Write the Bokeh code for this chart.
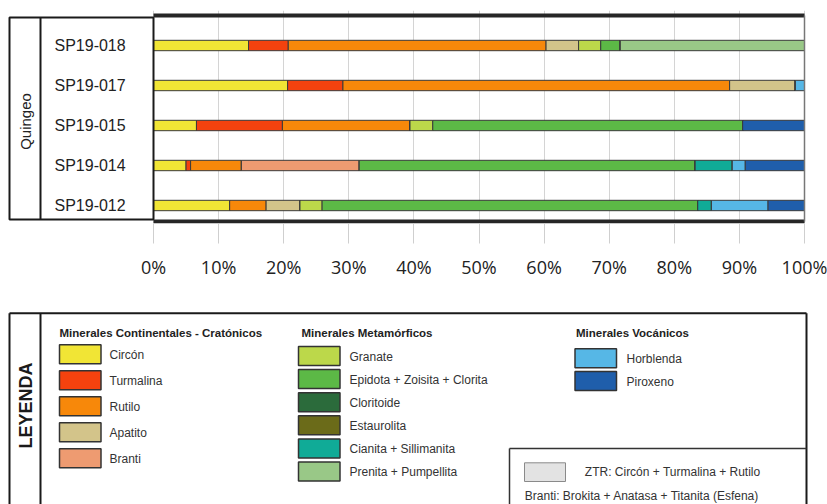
import math
from bokeh.plotting import figure
from bokeh.models import Range1d, LinearAxis, FixedTicker, ColumnDataSource
from bokeh.layouts import column
from bokeh.core.properties import value
from bokeh.embed import file_html
from bokeh.resources import INLINE

# ---------------- data ----------------
samples = ["SP19-018", "SP19-017", "SP19-015", "SP19-014", "SP19-012"]
group_label = "Quingeo"

minerals = ["Circón", "Turmalina", "Rutilo", "Apatito", "Branti",
            "Granate", "Epidota + Zoisita + Clorita", "Cloritoide", "Estaurolita",
            "Cianita + Sillimanita", "Prenita + Pumpellita",
            "Horblenda", "Piroxeno"]
colors = ["#f1e535", "#f4420e", "#f7880a", "#d3c48a", "#ee9b71",
          "#bcd84a", "#5cb946", "#2b6b3b", "#6b6b19",
          "#10ab97", "#99c887",
          "#56b7e6", "#1f5eab"]

circon      = [14.6, 20.6, 6.6, 5.0, 11.7]
turmalina   = [6.1, 8.5, 13.2, 0.7, 0.0]
rutilo      = [39.6, 59.4, 19.6, 7.8, 5.6]
apatito     = [5.0, 10.1, 0.0, 0.0, 5.2]
branti      = [0.0, 0.0, 0.0, 18.1, 0.0]
granate     = [3.4, 0.0, 3.5, 0.0, 3.4]
epidota     = [3.0, 0.0, 47.6, 51.6, 57.7]
cloritoide  = [0.0, 0.0, 0.0, 0.0, 0.0]
estaurolita = [0.0, 0.0, 0.0, 0.0, 0.0]
cianita     = [0.0, 0.0, 0.0, 5.7, 2.1]
prenita     = [28.3, 0.0, 0.0, 0.0, 0.0]
horblenda   = [0.0, 1.4, 0.0, 2.0, 8.7]
piroxeno    = [0.0, 0.0, 9.5, 9.1, 5.6]

series = [circon, turmalina, rutilo, apatito, branti, granate, epidota,
          cloritoide, estaurolita, cianita, prenita, horblenda, piroxeno]

ticks = [0, 10, 20, 30, 40, 50, 60, 70, 80, 90, 100]
tick_labels = ["0%", "10%", "20%", "30%", "40%", "50%", "60%", "70%", "80%", "90%", "100%"]

legend_groups = [
    ("Minerales Continentales - Cratónicos", [0, 1, 2, 3, 4]),
    ("Minerales Metamórficos", [5, 6, 7, 8, 9, 10]),
    ("Minerales Vocánicos", [11, 12]),
]
ztr_text = "ZTR: Circón + Turmalina + Rutilo"
branti_text = "Branti: Brokita + Anatasa + Titanita (Esfena)"
legend_title = "LEYENDA"

# ---------------- layout constants ----------------
W = 827
TOP_H = 290
X0, X100 = 153.0, 804.0
K = (X100 - X0) / 100.0           # px per percent
ROW0, PITCH = 45.0, 40.0          # px centre of first bar, px between bars
FRAME_TOP, FRAME_BOT = 10, 223

def dx(px):
    return (px - X0) / K

def dy(py):
    return (py - ROW0) / PITCH

FONT = value("Liberation Sans")

# ---------------- top chart ----------------
p = figure(width=W, height=TOP_H, toolbar_location=None, output_backend="svg",
           x_range=Range1d(dx(0), dx(W)), y_range=Range1d(dy(FRAME_BOT), dy(FRAME_TOP)),
           x_axis_location=None, y_axis_location=None,
           min_border_left=0, min_border_right=0,
           min_border_top=FRAME_TOP, min_border_bottom=TOP_H - FRAME_BOT,
           outline_line_color=None, background_fill_color="white",
           border_fill_color="white")

keys = ["m%d" % i for i in range(len(minerals))]
data = dict(idx=list(range(len(samples))), sample=samples)
for k, s in zip(keys, series):
    data[k] = s
src = ColumnDataSource(data)

p.hbar_stack(keys, y="idx", height=0.26, color=colors, line_color="#3a3a3a",
             line_width=1, source=src)

xaxis = LinearAxis(ticker=FixedTicker(ticks=ticks),
                   major_label_overrides={t: l for t, l in zip(ticks, tick_labels)})
xaxis.axis_line_color = None
xaxis.major_tick_out = 20
xaxis.major_tick_in = 0
xaxis.major_tick_line_color = "#cfcfcf"
xaxis.minor_tick_line_color = None
xaxis.major_label_standoff = 11
xaxis.major_label_text_font = "Open Sans"
xaxis.major_label_text_font_size = "18px"
xaxis.major_label_text_color = "#222222"
p.add_layout(xaxis, "below")

p.xgrid.ticker = FixedTicker(ticks=ticks)
p.xgrid.grid_line_color = "#d4d4d4"
p.ygrid.visible = False

# frame lines of the chart
y_top, y_bot = dy(15), dy(221)
p.segment(x0=[0, 0], y0=[y_top, y_bot], x1=[100, 100], y1=[y_top, y_bot],
          line_color="#262626", line_width=4)
p.segment(x0=[100], y0=[y_top], x1=[100], y1=[y_bot], line_color="#777777", line_width=1.5)

# left label box
p.quad(left=[dx(9)], right=[dx(153)], top=[dy(17)], bottom=[dy(219)],
       fill_color=None, line_color="#1a1a1a", line_width=2)
p.segment(x0=[dx(40)], y0=[dy(17)], x1=[dx(40)], y1=[dy(219)],
          line_color="#1a1a1a", line_width=2)
p.text(x=[dx(25)], y=[dy(121)], text=[group_label], angle=math.pi / 2,
       text_align="center", text_baseline="middle", text_font=FONT,
       text_font_size="15px", text_color="#222222")
p.text(x=dx(54), y="idx", text="sample", source=src, text_align="left",
       text_baseline="middle", text_font=FONT, text_font_size="16px",
       text_color="#222222")

# ---------------- legend ----------------
LG_H = 504 - TOP_H
lg = figure(width=W, height=LG_H, toolbar_location=None, output_backend="svg",
            x_range=Range1d(0, W), y_range=Range1d(504, TOP_H),
            x_axis_location=None, y_axis_location=None, min_border=0,
            outline_line_color=None, background_fill_color="white",
            border_fill_color="white")
lg.xgrid.visible = False
lg.ygrid.visible = False

BOX_TOP = 312.7
lg.segment(x0=[9, 9, 40, 806], y0=[BOX_TOP, BOX_TOP, BOX_TOP, BOX_TOP],
           x1=[806, 9, 40, 806], y1=[BOX_TOP, 510, 510, 510],
           line_color="#1a1a1a", line_width=2)
lg.segment(x0=[509, 509], y0=[448, 448], x1=[806, 509], y1=[448, 510],
           line_color="#333333", line_width=1.5)
lg.text(x=[25], y=[405], text=[legend_title], angle=math.pi / 2,
        text_align="center", text_baseline="middle", text_font=FONT,
        text_font_style="bold", text_font_size="18px", text_color="#1a1a1a")

col_specs = [
    # swatch left, first swatch top, pitch, text x, header x
    (59.0, 344.3, 26.0, 109.0, 59.0),
    (298.0, 346.0, 23.1, 349.0, 301.0),
    (574.5, 348.3, 22.7, 626.0, 575.5),
]
SW_W, SW_H = 41.5, 19.0
for (header, members), (sx, top0, pitch, tx, hx) in zip(legend_groups, col_specs):
    lg.text(x=[hx], y=[332.7], text=[header], text_align="left", text_baseline="middle",
            text_font=FONT, text_font_style="bold", text_font_size="11.5px",
            text_color="#222222")
    tops = [top0 + j * pitch for j in range(len(members))]
    lg.quad(left=[sx] * len(members), right=[sx + SW_W] * len(members),
            top=tops, bottom=[t + SW_H for t in tops],
            fill_color=[colors[m] for m in members], line_color="#333333", line_width=1.5)
    lg.text(x=[tx] * len(members), y=[t + SW_H / 2 + 0.5 for t in tops],
            text=[minerals[m] for m in members], text_align="left", text_baseline="middle",
            text_font=FONT, text_font_size="12px", text_color="#333333")

lg.quad(left=[524], right=[565], top=[462.3], bottom=[481], fill_color="#e3e3e3",
        line_color="#8a8a8a", line_width=1)
lg.text(x=[584.3], y=[471], text=[ztr_text], text_align="left", text_baseline="middle",
        text_font=FONT, text_font_size="12px", text_color="#333333")
lg.text(x=[524.3], y=[495], text=[branti_text], text_align="left", text_baseline="middle",
        text_font=FONT, text_font_size="12px", text_color="#333333")

layout = column(p, lg, spacing=0)
open("out.html", "w").write(file_html(layout, INLINE))
